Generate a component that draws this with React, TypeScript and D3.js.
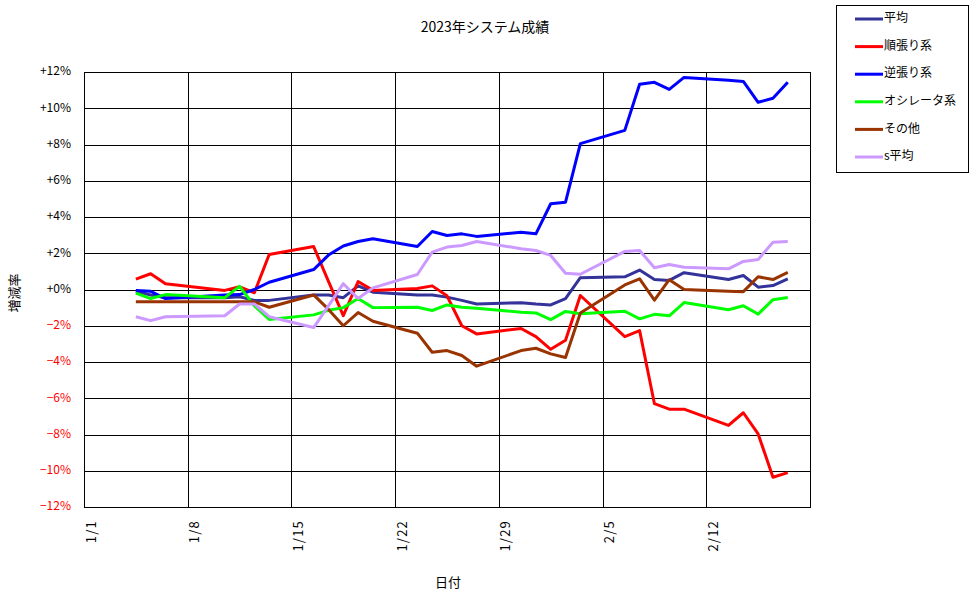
import * as d3 from 'd3';

// 取引日 (2023)
const dates = [
  '1/4', '1/5', '1/6', '1/10', '1/11', '1/12', '1/13', '1/16', '1/17', '1/18', '1/19', '1/20',
  '1/23', '1/24', '1/25', '1/26', '1/27', '1/30', '1/31', '2/1', '2/2', '2/3',
  '2/6', '2/7', '2/8', '2/9', '2/10', '2/13', '2/14', '2/15', '2/16', '2/17'
];

const heikin = [
  -0.1, -0.3, -0.45, -0.45, -0.4, -0.6, -0.6, -0.3, -0.3, -0.45, 0.2, -0.15,
  -0.3, -0.3, -0.42, -0.6, -0.8, -0.73, -0.8, -0.85, -0.5, 0.65,
  0.7, 1.07, 0.55, 0.5, 0.93, 0.55, 0.77, 0.13, 0.22, 0.59
];
const junbari = [
  0.57, 0.87, 0.32, -0.05, 0.15, -0.18, 1.93, 2.37, 0.45, -1.44, 0.44, -0.05,
  0.05, 0.2, -0.35, -2.0, -2.45, -2.15, -2.6, -3.3, -2.8, -0.33,
  -2.6, -2.27, -6.3, -6.6, -6.6, -7.5, -6.8, -7.97, -10.36, -10.1
];
const gyakubari = [
  -0.05, -0.1, -0.5, -0.3, -0.28, 0.0, 0.4, 1.1, 1.9, 2.4, 2.65, 2.8,
  2.37, 3.2, 2.98, 3.07, 2.93, 3.16, 3.07, 4.73, 4.82, 8.05,
  8.78, 11.32, 11.43, 11.04, 11.7, 11.54, 11.48, 10.33, 10.55, 11.43
];
const oscillator = [
  -0.2, -0.5, -0.28, -0.45, 0.17, -0.9, -1.65, -1.4, -1.15, -1.0, -0.5, -1.0,
  -0.98, -1.16, -0.85, -0.98, -1.03, -1.25, -1.29, -1.66, -1.21, -1.34,
  -1.2, -1.62, -1.37, -1.45, -0.72, -1.12, -0.9, -1.36, -0.56, -0.44
];
const sonota = [
  -0.68, -0.68, -0.68, -0.68, -0.68, -0.68, -0.98, -0.3, -1.1, -2.0, -1.27, -1.75,
  -2.41, -3.46, -3.37, -3.64, -4.23, -3.37, -3.24, -3.55, -3.75, -1.3,
  0.25, 0.59, -0.59, 0.54, 0.0, -0.09, -0.12, 0.7, 0.55, 0.94
];
const sHeikin = [
  -1.5, -1.72, -1.5, -1.45, -0.8, -0.8, -1.5, -2.1, -0.9, 0.32, -0.5, 0.09,
  0.83, 2.06, 2.34, 2.43, 2.65, 2.25, 2.15, 1.88, 0.9, 0.84,
  2.1, 2.15, 1.2, 1.38, 1.23, 1.14, 1.55, 1.66, 2.61, 2.65
];

const seriesNames = ['平均', '順張り系', '逆張り系', 'オシレータ系', 'その他', 's平均'];
const seriesValues = [heikin, junbari, gyakubari, oscillator, sonota, sHeikin];
const seriesColors = ['#333399', '#ff0000', '#0000ff', '#00ff00', '#993300', '#cc99ff'];

const yTicks = [12, 10, 8, 6, 4, 2, 0, -2, -4, -6, -8, -10, -12];

const W = 976;
const H = 599;
const left = 84;
const right = 810;
const top = 72;
const bottom = 507;
const font = '"Noto Sans CJK JP", "Noto Sans", sans-serif';

const parseDate = (s: string) => {
  const [m, d] = s.split('/').map(Number);
  return new Date(Date.UTC(2023, m - 1, d));
};

export default function App() {
  const x = d3.scaleUtc()
    .domain([new Date(Date.UTC(2023, 0, 1)), new Date(Date.UTC(2023, 1, 19))])
    .range([left, right]);
  const y = d3.scaleLinear().domain([-12, 12]).range([bottom, top]);

  const xTicks = d3.utcSunday.range(new Date(Date.UTC(2023, 0, 1)), new Date(Date.UTC(2023, 1, 19)));
  const fmt = d3.utcFormat('%-m/%-d');
  const px = (v: number) => Math.round(v) + 0.5;

  // points sit in the middle of each day
  const xs = dates.map(d => x(d3.utcHour.offset(parseDate(d), 12)));
  const line = d3.line<number>()
    .x((_, i) => xs[i])
    .y(v => y(v));

  return (
    <svg width={W} height={H} style={{ position: 'absolute', left: 0, top: 0, background: '#fff' }} fontFamily={font}>
      <rect x={0} y={0} width={W} height={H} fill="#fff" />

      <text x={485} y={28} fontSize={14} textAnchor="middle" dominantBaseline="middle">2023年システム成績</text>

      {/* grid */}
      {yTicks.map(t => (
        <line key={'gy' + t} x1={left} x2={right} y1={px(y(t))} y2={px(y(t))} stroke="#000" strokeWidth={1} />
      ))}
      {xTicks.map(t => (
        <line key={'gx' + t.getTime()} x1={px(x(t))} x2={px(x(t))} y1={top} y2={bottom} stroke="#000" strokeWidth={1} />
      ))}
      <rect x={left + 0.5} y={px(y(12))} width={right - left} height={Math.round(y(-12)) - Math.round(y(12))} fill="none" stroke="#000" strokeWidth={1} />

      {/* y labels */}
      {yTicks.map(t => (
        <text key={'ly' + t} x={71} y={y(t)} fontSize={12} textAnchor="end" dominantBaseline="middle"
          fill={t < 0 ? '#ff0000' : '#000'}>
          {(t < 0 ? '−' : '+') + Math.abs(t) + '%'}
        </text>
      ))}

      {/* x labels */}
      {xTicks.map(t => (
        <text key={'lx' + t.getTime()} transform={`translate(${x(t) + 8},520) rotate(-90)`} fontSize={13}
          letterSpacing={1.2} textAnchor="end" dominantBaseline="middle">{fmt(t)}</text>
      ))}

      <text x={448} y={583} fontSize={13} textAnchor="middle" dominantBaseline="middle">日付</text>
      <text transform="translate(15,293) rotate(-90)" fontSize={13} textAnchor="middle" dominantBaseline="middle">増減率</text>

      {/* series */}
      {seriesValues.map((vals, i) => (
        <path key={'s' + i} d={line(vals) || ''} fill="none" stroke={seriesColors[i]} strokeWidth={3}
          strokeLinejoin="round" />
      ))}

      {/* legend */}
      <rect x={836.5} y={5.5} width={132} height={167} fill="#fff" stroke="#000" strokeWidth={1} />
      {seriesNames.map((n, i) => {
        const ly = 19 + i * 27.6;
        return (
          <g key={'lg' + i}>
            <line x1={855} x2={883} y1={ly} y2={ly} stroke={seriesColors[i]} strokeWidth={3} />
            <text x={884} y={ly} fontSize={12} dominantBaseline="middle">{n}</text>
          </g>
        );
      })}
    </svg>
  );
}
